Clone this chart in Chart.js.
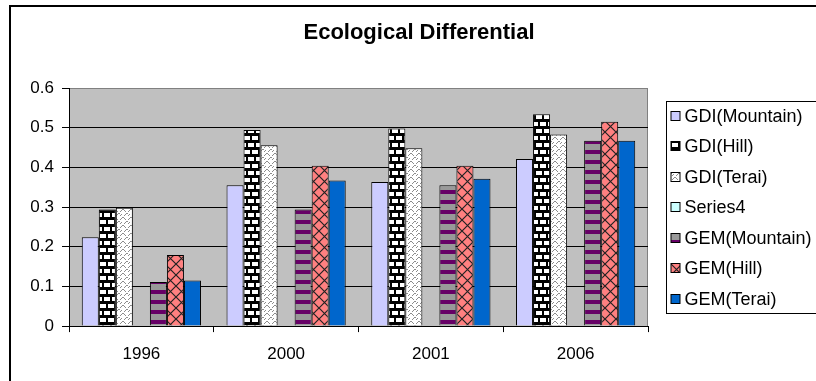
<!DOCTYPE html>
<html>
<head>
<meta charset="utf-8">
<script src="https://cdn.jsdelivr.net/npm/chart.js@4/dist/chart.umd.min.js"></script>
<style>
  html, body { margin: 0; padding: 0; background: #ffffff; }
  canvas { display: block; }
</style>
</head>
<body>
<canvas id="chart" width="816" height="381"></canvas>
<script>
// ---- data ----
const categories = ['1996', '2000', '2001', '2006'];
const seriesNames = ['GDI(Mountain)', 'GDI(Hill)', 'GDI(Terai)', 'Series4', 'GEM(Mountain)', 'GEM(Hill)', 'GEM(Terai)'];
const gdiMountain = [0.224, 0.355, 0.363, 0.421];
const gdiHill     = [0.294, 0.494, 0.498, 0.534];
const gdiTerai    = [0.298, 0.456, 0.448, 0.483];
const series4     = [0, 0, 0, 0];
const gemMountain = [0.111, 0.294, 0.355, 0.467];
const gemHill     = [0.179, 0.404, 0.404, 0.515];
const gemTerai    = [0.115, 0.367, 0.371, 0.467];
const yTickValues = [0, 0.1, 0.2, 0.3, 0.4, 0.5, 0.6];
const yTickLabels = ['0', '0.1', '0.2', '0.3', '0.4', '0.5', '0.6'];
const chartTitle = 'Ecological Differential';

const FONT = "'Liberation Sans', Arial, sans-serif";

// ---- fill patterns ----
function makeTile(w, h, paint) {
  const c = document.createElement('canvas');
  c.width = w; c.height = h;
  const g = c.getContext('2d');
  paint(g, w, h);
  return document.createElement('canvas').getContext('2d').createPattern(c, 'repeat');
}

// white bricks laid in thick black mortar
const brickPattern = makeTile(8, 14, (g) => {
  g.fillStyle = '#000'; g.fillRect(0, 0, 8, 14);
  g.fillStyle = '#fff';
  g.fillRect(0, 3, 6, 4);
  g.fillRect(0, 10, 2, 4);
  g.fillRect(4, 10, 4, 4);
});

// white with grey zigzag dashes
const zigzagPattern = makeTile(8, 8, (g) => {
  g.fillStyle = '#fff'; g.fillRect(0, 0, 8, 8);
  g.fillStyle = '#8c8c8c';
  [[0,3],[1,2],[2,1],[3,1],[4,2],[5,3],[4,7],[5,6],[6,5],[7,5],[0,7],[1,6]].forEach(([x, y]) => g.fillRect(x, y, 1, 1));
});

// purple / grey horizontal stripes
const stripePattern = makeTile(4, 10, (g) => {
  g.fillStyle = '#999999'; g.fillRect(0, 0, 4, 10);
  g.fillStyle = '#660066'; g.fillRect(0, 0, 4, 4);
});

// salmon with dark diagonal lattice
const latticePattern = makeTile(11, 11, (g) => {
  g.fillStyle = '#ff8080'; g.fillRect(0, 0, 11, 11);
  g.strokeStyle = '#222'; g.lineWidth = 1.2;
  g.beginPath();
  g.moveTo(0, 0); g.lineTo(11, 11);
  g.moveTo(11, 0); g.lineTo(0, 11);
  g.stroke();
});

const fills = ['#ccccff', brickPattern, zigzagPattern, '#ccffff', stripePattern, latticePattern, '#0066cc'];
const values = [gdiMountain, gdiHill, gdiTerai, series4, gemMountain, gemHill, gemTerai];

const datasets = seriesNames.map((name, i) => ({
  label: name,
  data: values[i],
  backgroundColor: fills[i],
  borderColor: '#000',
  borderWidth: 1
}));

// ---- frame, plot background, title and legend ----
const decorations = {
  id: 'decorations',
  beforeDraw(chart) {
    const { ctx, chartArea: a } = chart;
    ctx.save();
    ctx.fillStyle = '#c0c0c0';
    ctx.fillRect(a.left, a.top, a.right - a.left, a.bottom - a.top);
    ctx.strokeStyle = '#808080';
    ctx.lineWidth = 1;
    ctx.beginPath();
    ctx.moveTo(Math.round(a.right) - 0.5, a.top);
    ctx.lineTo(Math.round(a.right) - 0.5, a.bottom);
    ctx.stroke();
    ctx.restore();
  },
  afterDraw(chart) {
    const { ctx, chartArea: a } = chart;
    ctx.save();
    // outer frame
    const frame = { left: 10, top: 6, right: 828, bottom: 400 };
    ctx.strokeStyle = '#000';
    ctx.lineWidth = 2;
    ctx.strokeRect(frame.left, frame.top, frame.right - frame.left, frame.bottom - frame.top);

    // title
    ctx.fillStyle = '#000';
    ctx.font = 'bold 22px ' + FONT;
    ctx.textAlign = 'center';
    ctx.textBaseline = 'middle';
    ctx.fillText(chartTitle, (frame.left + frame.right) / 2, 33);

    // legend
    const rowH = 30.5;
    const n = chart.data.datasets.length;
    const mid = (a.top + a.bottom) / 2;
    const boxTop = Math.round(mid - 106) + 0.5;
    const boxBottom = Math.round(mid + 106) + 0.5;
    const boxLeft = Math.round(a.right) + 18.5;
    ctx.fillStyle = '#fff';
    ctx.fillRect(boxLeft, boxTop, 200, boxBottom - boxTop);
    ctx.strokeStyle = '#000';
    ctx.lineWidth = 1;
    ctx.strokeRect(boxLeft, boxTop, 200, boxBottom - boxTop);
    ctx.font = '18px ' + FONT;
    ctx.textAlign = 'left';
    ctx.textBaseline = 'middle';
    chart.data.datasets.forEach((ds, i) => {
      const cy = mid + (i - (n - 1) / 2) * rowH;
      const sx = boxLeft + 4.5, sy = Math.round(cy - 5) + 0.5;
      ctx.fillStyle = ds.backgroundColor;
      ctx.fillRect(sx, sy, 9, 9);
      ctx.strokeStyle = '#000';
      ctx.strokeRect(sx, sy, 9, 9);
      ctx.fillStyle = '#000';
      ctx.fillText(ds.label, boxLeft + 18, cy + 1);
    });
    ctx.restore();
  }
};

new Chart(document.getElementById('chart'), {
  type: 'bar',
  data: { labels: categories, datasets },
  options: {
    responsive: false,
    animation: false,
    devicePixelRatio: 1,
    layout: { padding: { top: 88, right: 168, bottom: 4.5, left: 0 } },
    datasets: { bar: { categoryPercentage: 7 / 8.5, barPercentage: 1 } },
    plugins: {
      legend: { display: false },
      title: { display: false },
      tooltip: { enabled: false }
    },
    scales: {
      x: {
        grid: { drawOnChartArea: false, drawTicks: true, tickLength: 6, color: '#000', offset: true },
        border: { color: '#000', width: 1 },
        ticks: { color: '#000', font: { family: FONT, size: 17 }, padding: 12 }
      },
      y: {
        min: 0,
        max: 0.6,
        afterBuildTicks: (scale) => { scale.ticks = yTickValues.map(v => ({ value: v })); },
        afterFit: (scale) => { scale.width = 69; },
        grid: {
          color: (c) => (c.tick && c.tick.value === 0.6 ? '#808080' : '#000'),
          tickColor: '#000',
          tickLength: 7
        },
        border: { color: '#000', width: 1 },
        ticks: {
          color: '#000',
          font: { family: FONT, size: 17 },
          padding: 8,
          callback: (v, i) => yTickLabels[i]
        }
      }
    }
  },
  plugins: [decorations]
});
</script>
</body>
</html>
